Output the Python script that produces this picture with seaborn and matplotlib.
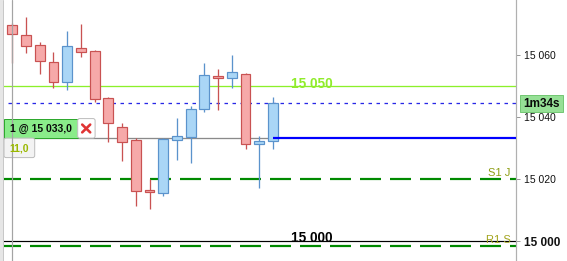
import matplotlib
matplotlib.use('Agg')
import matplotlib.pyplot as plt
import seaborn as sns
import numpy as np
import pandas as pd
from matplotlib.patches import Rectangle, FancyBboxPatch

# ---- data ----
opens  = [15069.7, 15066.5, 15063.1, 15057.7, 15051.2, 15062.2, 15061.3, 15046.0, 15036.8, 15032.5,
          15016.4, 15015.4, 15032.5, 15033.6, 15042.5, 15053.1, 15052.5, 15053.9, 15031.2, 15032.2]
highs  = [15070.2, 15072.4, 15064.2, 15061.0, 15067.7, 15070.1, 15061.6, 15046.5, 15038.0, 15033.1,
          15020.0, 15033.1, 15039.7, 15043.5, 15057.4, 15055.5, 15060.0, 15054.3, 15033.9, 15046.5]
lows   = [15057.3, 15060.7, 15053.9, 15049.5, 15048.7, 15059.3, 15044.9, 15032.0, 15025.8, 15011.4,
          15010.3, 15014.6, 15026.1, 15025.3, 15041.7, 15042.3, 15049.3, 15029.6, 15017.2, 15029.8]
closes = [15066.7, 15063.0, 15058.0, 15051.2, 15062.9, 15061.1, 15045.7, 15038.0, 15032.0, 15016.2,
          15015.7, 15032.9, 15033.9, 15042.6, 15053.5, 15052.5, 15054.5, 15031.2, 15032.2, 15044.4]

level_15050 = 15050.0
current_price = 15044.4
order_price = 15033.2
s1j_level = 15020.0
level_15000 = 15000.0
r1s_level = 14998.5
ytick_values = [15000, 15020, 15040, 15060]
ytick_labels = ['15 000', '15 020', '15 040', '15 060']
order_label = '1 @ 15 033,0'
pnl_label = '11,0'
timer_label = '1m34s'

PX = 0.72  # points per pixel at dpi 100

sns.set_theme(style='white')
plt.rcParams['font.family'] = ['Liberation Sans', 'DejaVu Sans']
plt.rcParams['lines.scale_dashes'] = False

fig = plt.figure(figsize=(5.67, 2.61), dpi=100)
fig.patch.set_facecolor('white')
ax = fig.add_axes([0, 0, 516 / 567, 1])
ax.set_facecolor('white')

df = pd.DataFrame({'o': opens, 'h': highs, 'l': lows, 'c': closes})
df['x'] = np.arange(len(df))
df['up'] = df['c'] >= df['o']

ax.set_xlim(-0.896, 36.71)
ax.set_ylim(14993.55, 15077.74)

# horizontal levels
ax.axhline(level_15050, color='#8cf02a', lw=1.3 * PX, zorder=1)
ax.axhline(current_price, color='#2828e6', lw=1.3 * PX, dashes=(3.5 * PX, 4.5 * PX), zorder=1)
ax.hlines(order_price, -0.896, 19, color='#8a8a8a', lw=1.3 * PX, zorder=1)
ax.hlines(order_price, 19, 36.71, color='#0000ff', lw=2.2 * PX, zorder=3)
ax.axhline(s1j_level, color='#008a00', lw=2.2 * PX, dashes=(21 * PX, 9 * PX), zorder=1)
ax.axhline(level_15000, color='#000000', lw=1.2 * PX, zorder=1)
ax.axhline(r1s_level, color='#008a00', lw=2.2 * PX, dashes=(21 * PX, 9 * PX), zorder=1)

# candles
red_fill, red_edge = '#f6a9a9', '#c95252'
blue_fill, blue_edge = '#aad6f6', '#5b93cc'
fills = np.where(df['up'], blue_fill, red_fill)
edges = np.where(df['up'], blue_edge, red_edge)
ax.vlines(df['x'], df['l'], df['h'], colors=edges, lw=1.3 * PX, zorder=2)
body_bottom = np.minimum(df['o'], df['c'])
body_height = np.maximum(np.abs(df['c'] - df['o']), 0.35)
ax.bar(df['x'], body_height, bottom=body_bottom, width=0.72, color=fills,
       edgecolor=edges, linewidth=1.2 * PX, zorder=2)

# level labels
ax.text(21.8, level_15050 + 0.8, '15 050', color='#90ec2c', fontsize=9.8,
        fontweight='bold', ha='center', va='center', zorder=4)
ax.text(21.8, level_15000 + 1.1, '15 000', color='#000000', fontsize=9.8,
        fontweight='bold', ha='center', va='center', zorder=4)
ax.text(36.27, s1j_level + 0.97, 'S1 J', color='#8d9d12', fontsize=8,
        ha='right', va='baseline', zorder=4)
ax.text(36.35, r1s_level + 0.85, 'R1 S', color='#a2a41c', fontsize=8,
        ha='right', va='baseline', zorder=4)

# axis styling
for s in ['left', 'top', 'bottom']:
    ax.spines[s].set_visible(False)
ax.spines['right'].set_color('#b0b0b0')
ax.spines['right'].set_linewidth(1.2 * PX)
ax.yaxis.tick_right()
ax.set_yticks(ytick_values)
ax.set_yticklabels(ytick_labels)
ax.set_xticks([])
ax.tick_params(axis='y', which='both', right=True, length=4 * PX, width=1 * PX,
               color='#999999', pad=3, labelsize=7.5, labelcolor='#111111')
for lab in ax.get_yticklabels():
    if lab.get_text() == '15 000':
        lab.set_fontweight('bold')
        lab.set_fontsize(8.5)
ax.grid(False)

# overlay in pixel coordinates for UI widgets
fig.canvas.draw()
x0_px = ax.transData.transform((0, current_price))[0]
y_cur_px = 261 - ax.transData.transform((0, current_price))[1]
y_ord_px = 261 - ax.transData.transform((0, order_price))[1]

ov = fig.add_axes([0, 0, 1, 1], zorder=10)
ov.set_xlim(0, 567)
ov.set_ylim(261, 0)
ov.axis('off')
ov.patch.set_alpha(0)

# left strip
ov.add_patch(Rectangle((0, 0), 3, 261, fc='#e6e6e6', ec='none'))
ov.plot([3.3, 3.3], [0, 261], color='#c8c8c8', lw=1 * PX)

# order box
top = y_ord_px - 19.5
ov.add_patch(Rectangle((4, top), 73.7, 19.5, fc='#8aec8a', ec='#2ea82e', lw=1 * PX))
ov.text(40.8, top + 10, order_label, fontsize=7.5, fontweight='bold', color='#0a0a0a',
        ha='center', va='center')
ov.add_patch(FancyBboxPatch((77.7, top), 17.4, 19.5, boxstyle='round,pad=0,rounding_size=2',
                            fc='white', ec='#bdbdbd', lw=1 * PX))
ov.plot([82.2, 90.2], [top + 6, top + 13.8], color='#e03434', lw=2.6 * PX, solid_capstyle='round')
ov.plot([82.2, 90.2], [top + 13.8, top + 6], color='#e03434', lw=2.6 * PX, solid_capstyle='round')
ov.add_patch(FancyBboxPatch((4, y_ord_px), 30.7, 19.5, boxstyle='round,pad=0,rounding_size=2',
                            fc='#f3f3f3', ec='#bdbdbd', lw=1 * PX))
ov.text(19.4, y_ord_px + 10.5, pnl_label, fontsize=7.5, fontweight='bold', color='#9ab800',
        ha='center', va='center')

# vertical cursor line at first candle
ov.plot([x0_px, x0_px], [0, 261], color='#a4a4a4', lw=1.2 * PX)

# timer box
ov.add_patch(Rectangle((520, y_cur_px - 8.3), 43, 16.6, fc='#96e096', ec='#74c874', lw=1 * PX))
ov.text(541.5, y_cur_px + 0.3, timer_label, fontsize=8.5, fontweight='bold', color='#0a0a0a',
        ha='center', va='center')

fig.savefig('out.png', dpi=100)
